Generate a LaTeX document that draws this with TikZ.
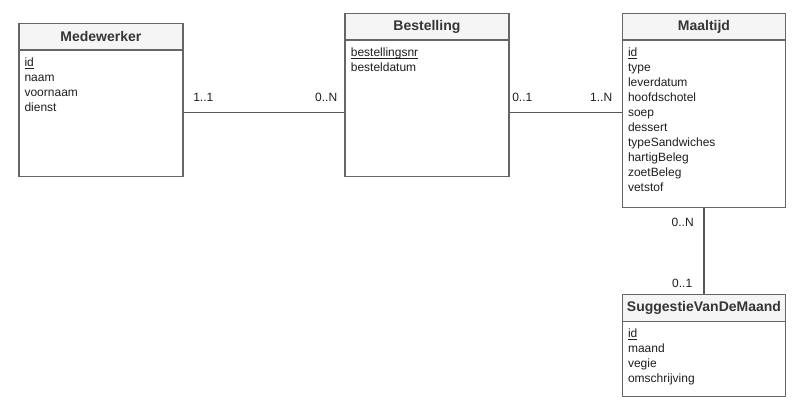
\documentclass[tikz,border=0pt]{standalone}
\usepackage{fontspec}
\setmainfont{Liberation Sans}
\usetikzlibrary{calc}
\definecolor{edge}{HTML}{666666}
\definecolor{headfill}{HTML}{F5F5F5}
\definecolor{ink}{HTML}{1F1F1F}
% key attribute: underline at a fixed depth, independent of descenders
\newcommand\keyattr[1]{\setbox0\hbox{#1}\rlap{\rule[-1.6pt]{\wd0}{0.6pt}}\box0}
\begin{document}
\begin{tikzpicture}[x=0.75pt,y=-0.75pt,
  entity/.style={draw=edge,line width=0.9pt,fill=white,rectangle,anchor=north west,inner sep=0pt},
  head/.style={draw=edge,line width=0.9pt,fill=headfill,rectangle,anchor=north west,inner sep=0pt,
    minimum height=26.6*0.75pt,font=\fontsize{10.5}{12}\selectfont\bfseries,text=ink!90!white},
  attr/.style={anchor=base west,inner sep=0pt,font=\fontsize{9}{11}\selectfont,text=ink},
  card/.style={inner sep=0pt,font=\fontsize{9}{11}\selectfont,text=ink},
  link/.style={draw=edge!85!black,line width=1pt}]
\useasboundingbox (0,0) rectangle (795,407);

% Medewerker
\node[entity,minimum width=164*0.75pt,minimum height=153.3*0.75pt] (med) at (18.3,22.7) {};
\node[head,minimum width=164*0.75pt] (medh) at (18.3,22.7) {Medewerker};
\node[attr] (med-a1) at (24.3,66.5) {\keyattr{id}};
\foreach \t [count=\i from 2] in {naam,voornaam,dienst}
  \node[attr] (med-a\i) at ({24.3},{66.5+15*(\i-1)}) {\t};

% Bestelling
\node[entity,minimum width=164*0.75pt,minimum height=163.3*0.75pt] (best) at (344.3,12.7) {};
\node[head,minimum width=164*0.75pt] (besth) at (344.3,12.7) {Bestelling};
\node[attr] (best-a1) at (350.6,56.5) {\keyattr{bestellingsnr}};
\node[attr] (best-a2) at (350.6,71.5) {besteldatum};

% Maaltijd
\node[entity,minimum width=163.3*0.75pt,minimum height=194*0.75pt] (maal) at (621.7,12.7) {};
\node[head,minimum width=163.3*0.75pt] (maalh) at (621.7,12.7) {Maaltijd};
\node[attr] (maal-a1) at (627.8,56.5) {\keyattr{id}};
\foreach \t [count=\i from 2] in {type,leverdatum,hoofdschotel,soep,dessert,typeSandwiches,hartigBeleg,zoetBeleg,vetstof}
  \node[attr] (maal-a\i) at ({627.8},{56.5+15*(\i-1)}) {\t};

% SuggestieVanDeMaand
\node[entity,minimum width=163.3*0.75pt,minimum height=101.7*0.75pt] (sug) at (621.7,294) {};
\node[head,minimum width=163.3*0.75pt] (sugh) at (621.7,294) {SuggestieVanDeMaand};
\node[attr] (sug-a1) at (627.8,337.5) {\keyattr{id}};
\foreach \t [count=\i from 2] in {maand,vegie,omschrijving}
  \node[attr] (sug-a\i) at ({627.8},{337.5+15*(\i-1)}) {\t};

% relations
\coordinate (row) at (0,112.5);
\draw[link] (med.east |- row) -- (best.west |- row);
\draw[link] (best.east |- row) -- (maal.west |- row);
\draw[link] (maal.south) -- (sug.north);

% cardinalities
\node[card,anchor=base west] (c1) at (193,101) {1..1};
\node[card,anchor=base east] (c2) at (337.5,101) {0..N};
\node[card,anchor=base west] (c3) at (512,101) {0..1};
\node[card,anchor=base east] (c4) at (612.5,101) {1..N};
\node[card,anchor=base east] (c5) at (694,226) {0..N};
\node[card,anchor=base east] (c6) at (692.5,287) {0..1};
\end{tikzpicture}
\end{document}
